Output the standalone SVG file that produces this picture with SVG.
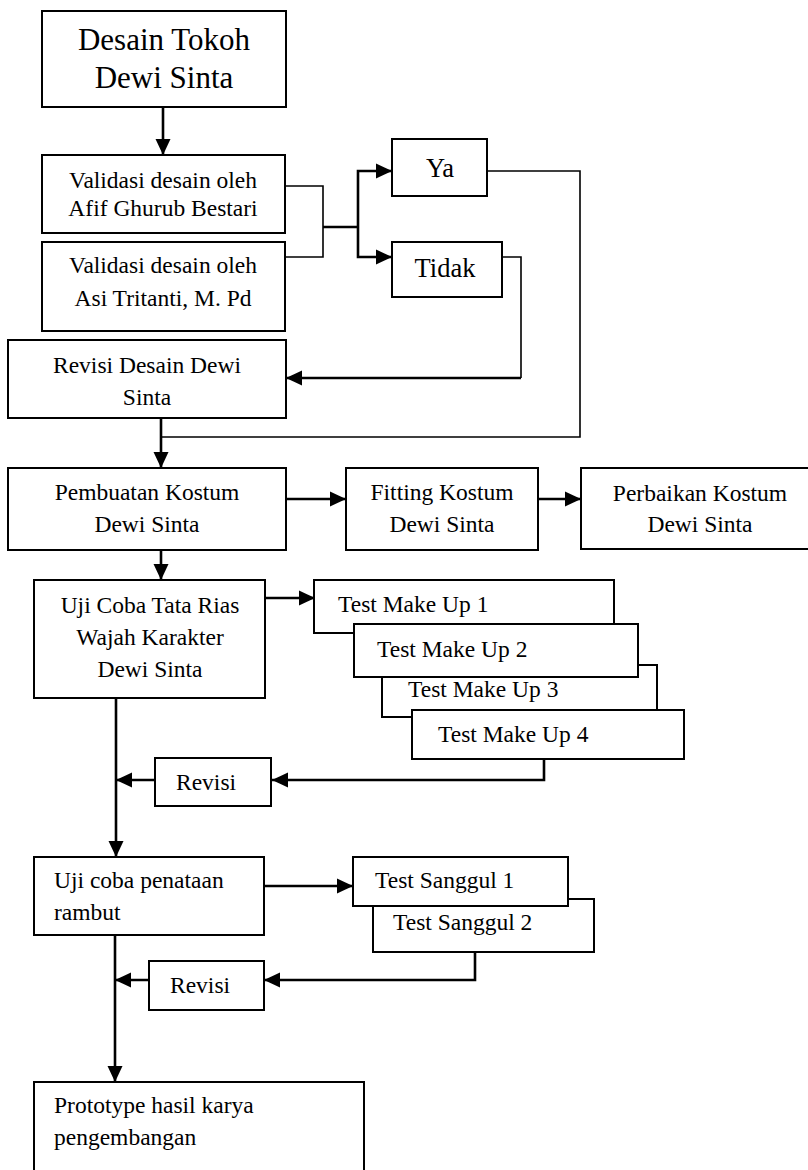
<svg xmlns="http://www.w3.org/2000/svg" width="808" height="1170" viewBox="0 0 808 1170">
  <style>
    .box { fill: #ffffff; stroke: #000000; stroke-width: 2; }
    .t { font-family: "Liberation Serif", "Times New Roman", serif; font-size: 23.5px; fill: #000000; }
    .c { text-anchor: middle; }
    .big { font-size: 31px; }
    .mid { font-size: 26.5px; }
    .thick { fill: none; stroke: #000000; stroke-width: 2.6; }
    .thin { fill: none; stroke: #000000; stroke-width: 1.6; }
  </style>
  <defs>
    <marker id="arrow" markerUnits="userSpaceOnUse" markerWidth="16" markerHeight="16" viewBox="0 0 16 16" refX="16" refY="8" orient="auto">
      <path d="M0,0.5 L16,8 L0,15.5 z" fill="#000000"/>
    </marker>
  </defs>
  <rect width="808" height="1170" fill="#ffffff"/>

  <g id="connectors">
    <path class="thick" d="M163,107 V155" marker-end="url(#arrow)"/>
    <path class="thin" d="M285,186 H323 V257 H285"/>
    <path class="thick" d="M323,227 H358"/>
    <path class="thick" d="M358,227 V171 H392" marker-end="url(#arrow)"/>
    <path class="thick" d="M358,227 V257 H392" marker-end="url(#arrow)"/>
    <path class="thin" d="M502,257 H521 V378"/>
    <path class="thick" d="M521,378 H286" marker-end="url(#arrow)"/>
    <path class="thin" d="M487,171 H580 V437 H161"/>
    <path class="thick" d="M161,418 V468" marker-end="url(#arrow)"/>
    <path class="thick" d="M286,499 H346" marker-end="url(#arrow)"/>
    <path class="thick" d="M538,499 H581" marker-end="url(#arrow)"/>
    <path class="thick" d="M161,550 V580" marker-end="url(#arrow)"/>
    <path class="thick" d="M265,598 H315" marker-end="url(#arrow)"/>
    <path class="thick" d="M544,759 V780 H272" marker-end="url(#arrow)"/>
    <path class="thick" d="M155,780 H116" marker-end="url(#arrow)"/>
    <path class="thick" d="M116,698 V857" marker-end="url(#arrow)"/>
    <path class="thick" d="M264,886 H353" marker-end="url(#arrow)"/>
    <path class="thick" d="M475,952 V980 H264" marker-end="url(#arrow)"/>
    <path class="thick" d="M149,980 H115" marker-end="url(#arrow)"/>
    <path class="thick" d="M115,935 V1082" marker-end="url(#arrow)"/>
  </g>

  <g id="desain-tokoh">
    <rect class="box" x="42" y="11" width="244" height="96"/>
    <text class="t c big" x="164" y="50">Desain Tokoh</text>
    <text class="t c big" x="164" y="88">Dewi Sinta</text>
  </g>

  <g id="validasi-afif">
    <rect class="box" x="42" y="155" width="243" height="78"/>
    <text class="t c" x="163" y="188">Validasi desain oleh</text>
    <text class="t c" x="163" y="216">Afif Ghurub Bestari</text>
  </g>

  <g id="validasi-asi">
    <rect class="box" x="42" y="242" width="243" height="89"/>
    <text class="t c" x="163" y="273">Validasi desain oleh</text>
    <text class="t c" x="163" y="306">Asi Tritanti, M. Pd</text>
  </g>

  <g id="ya">
    <rect class="box" x="392" y="139" width="95" height="57"/>
    <text class="t c mid" x="440" y="177">Ya</text>
  </g>

  <g id="tidak">
    <rect class="box" x="392" y="242" width="110" height="55"/>
    <text class="t c mid" x="445" y="277">Tidak</text>
  </g>

  <g id="revisi-desain">
    <rect class="box" x="8" y="340" width="278" height="78"/>
    <text class="t c" x="147" y="373">Revisi Desain Dewi</text>
    <text class="t c" x="147" y="405">Sinta</text>
  </g>

  <g id="pembuatan-kostum">
    <rect class="box" x="8" y="468" width="278" height="82"/>
    <text class="t c" x="147" y="500">Pembuatan Kostum</text>
    <text class="t c" x="147" y="532">Dewi Sinta</text>
  </g>

  <g id="fitting-kostum">
    <rect class="box" x="346" y="468" width="192" height="82"/>
    <text class="t c" x="442" y="500">Fitting Kostum</text>
    <text class="t c" x="442" y="532">Dewi Sinta</text>
  </g>

  <g id="perbaikan-kostum">
    <rect class="box" x="581" y="468" width="240" height="81"/>
    <text class="t c" x="700" y="501">Perbaikan Kostum</text>
    <text class="t c" x="700" y="532">Dewi Sinta</text>
  </g>

  <g id="uji-coba-rias">
    <rect class="box" x="34" y="580" width="231" height="118"/>
    <text class="t c" x="150" y="613">Uji Coba Tata Rias</text>
    <text class="t c" x="150" y="645">Wajah Karakter</text>
    <text class="t c" x="150" y="677">Dewi Sinta</text>
  </g>

  <g id="test-make-up-1">
    <rect class="box" x="314" y="580" width="300" height="53"/>
    <text class="t" x="338" y="612">Test Make Up 1</text>
  </g>

  <g id="test-make-up-3">
    <rect class="box" x="382" y="665" width="275" height="52"/>
    <text class="t" x="408" y="697">Test Make Up 3</text>
  </g>

  <g id="test-make-up-2">
    <rect class="box" x="354" y="624" width="284" height="53"/>
    <text class="t" x="377" y="657">Test Make Up 2</text>
  </g>

  <g id="test-make-up-4">
    <rect class="box" x="412" y="710" width="272" height="49"/>
    <text class="t" x="438" y="742">Test Make Up 4</text>
  </g>

  <g id="revisi-1">
    <rect class="box" x="155" y="758" width="116" height="48"/>
    <text class="t" x="176" y="790">Revisi</text>
  </g>

  <g id="uji-coba-rambut">
    <rect class="box" x="34" y="857" width="230" height="78"/>
    <text class="t" x="54" y="888">Uji coba penataan</text>
    <text class="t" x="54" y="920">rambut</text>
  </g>

  <g id="test-sanggul-2">
    <rect class="box" x="373" y="899" width="221" height="53"/>
    <text class="t" x="393" y="930">Test Sanggul 2</text>
  </g>

  <g id="test-sanggul-1">
    <rect class="box" x="353" y="857" width="215" height="49"/>
    <text class="t" x="375" y="888">Test Sanggul 1</text>
  </g>

  <g id="revisi-2">
    <rect class="box" x="149" y="961" width="115" height="49"/>
    <text class="t" x="170" y="993">Revisi</text>
  </g>

  <g id="prototype">
    <rect class="box" x="34" y="1082" width="330" height="100"/>
    <text class="t" x="54" y="1113">Prototype hasil karya</text>
    <text class="t" x="54" y="1145">pengembangan</text>
  </g>
</svg>
